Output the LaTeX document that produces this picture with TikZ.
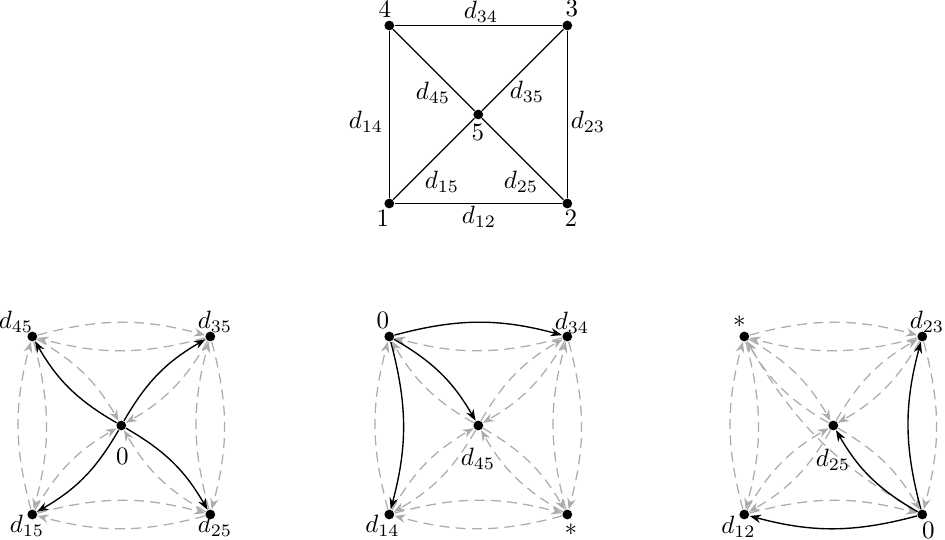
\documentclass[tikz,border=0pt]{standalone}
\usetikzlibrary{arrows.meta}
\begin{document}
\begin{tikzpicture}[x=0.01404cm,y=-0.01404cm,
  dot/.style={circle,fill=black,inner sep=0pt,minimum size=3.9pt},
  lbl/.style={inner sep=0pt},
  plain/.style={line width=0.5pt},
  blackarc/.style={line width=0.55pt,-{Stealth[length=4.6pt,width=3.3pt]},bend left=15},
  grayarc/.style={line width=0.5pt,gray!65,-{Stealth[length=4.4pt,width=3.4pt]},bend left=15,dash pattern=on 4pt off 2.5pt}]
\useasboundingbox (0,0) rectangle (945,540);

% ---------- top graph ----------
\node[dot] (t4) at (389.3,25.5) {};
\node[dot] (t3) at (567.3,25.5) {};
\node[dot] (t1) at (389.3,203.5) {};
\node[dot] (t2) at (567.3,203.5) {};
\node[dot] (t5) at (478.3,114.5) {};
\draw[plain] (t4) -- (t3) -- (t2) -- (t1) -- (t4);
\draw[plain] (t4) -- (t5) -- (t2);
\draw[plain] (t3) -- (t5) -- (t1);
\node[lbl] (lt4) at (385,9) {$4$};
\node[lbl] (lt3) at (572,8.5) {$3$};
\node[lbl] (lt1) at (383,218.5) {$1$};
\node[lbl] (lt2) at (571,218.5) {$2$};
\node[lbl] (lt5) at (478,132) {$5$};
\node[lbl] (l34) at (481,12) {$d_{34}$};
\node[lbl] (l45) at (433,93) {$d_{45}$};
\node[lbl] (l35) at (527,92) {$d_{35}$};
\node[lbl] (l14) at (366,122) {$d_{14}$};
\node[lbl] (l23) at (588,122) {$d_{23}$};
\node[lbl] (l15) at (442,182) {$d_{15}$};
\node[lbl] (l25) at (521,182) {$d_{25}$};
\node[lbl] (l12) at (479,217) {$d_{12}$};

% ---------- bottom left ----------
\node[dot] (a45) at (32.3,336.5) {};
\node[dot] (a35) at (210.3,336.5) {};
\node[dot] (a15) at (32.3,514.5) {};
\node[dot] (a25) at (210.3,514.5) {};
\node[dot] (a0) at (121.3,425.5) {};
\foreach \u/\v in {a45/a35,a35/a45,a35/a25,a25/a35,a25/a15,a15/a25,a15/a45,a45/a15,
                   a45/a0,a35/a0,a15/a0,a25/a0}
  \draw[grayarc] (\u) to (\v);
\foreach \v in {a45,a35,a15,a25}
  \draw[blackarc] (a0) to (\v);
\node[lbl] (la45) at (16,322) {$d_{45}$};
\node[lbl] (la35) at (215,322) {$d_{35}$};
\node[lbl] (la15) at (27,526) {$d_{15}$};
\node[lbl] (la25) at (215,526) {$d_{25}$};
\node[lbl] (la0) at (122.5,456) {$0$};

% ---------- bottom middle ----------
\node[dot] (b0) at (389.3,336.5) {};
\node[dot] (b34) at (567.3,336.5) {};
\node[dot] (b14) at (389.3,514.5) {};
\node[dot] (bs) at (567.3,514.5) {};
\node[dot] (b45) at (478.3,425.5) {};
\foreach \u/\v in {b34/b0,b34/bs,bs/b34,bs/b14,b14/bs,b14/b0,
                   b45/b0,b34/b45,b45/b34,bs/b45,b45/bs,b14/b45,b45/b14}
  \draw[grayarc] (\u) to (\v);
\foreach \v in {b34,b45,b14}
  \draw[blackarc] (b0) to (\v);
\node[lbl] (lb0) at (383,320) {$0$};
\node[lbl] (lb34) at (572,323) {$d_{34}$};
\node[lbl] (lb45) at (478,459) {$d_{45}$};
\node[lbl] (lb14) at (382.5,526) {$d_{14}$};
\node[lbl] (lbs) at (571,530) {$*$};

% ---------- bottom right ----------
\node[dot] (cs) at (744.3,336.5) {};
\node[dot] (c23) at (922.3,336.5) {};
\node[dot] (c12) at (744.3,514.5) {};
\node[dot] (c0) at (922.3,514.5) {};
\node[dot] (c25) at (833.3,425.5) {};
\foreach \u/\v in {cs/c23,c23/cs,c23/c0,c0/cs,c12/c0,cs/c12,c12/cs,
                   cs/c25,c25/cs,c23/c25,c25/c23,c12/c25,c25/c12,c25/c0}
  \draw[grayarc] (\u) to (\v);
\foreach \v in {c23,c12,c25}
  \draw[blackarc] (c0) to (\v);
\node[lbl] (lcs) at (739.5,321.5) {$*$};
\node[lbl] (lc23) at (927,322) {$d_{23}$};
\node[lbl] (lc25) at (833,460) {$d_{25}$};
\node[lbl] (lc12) at (738.5,527) {$d_{12}$};
\node[lbl] (lc0) at (928.5,530) {$0$};
\end{tikzpicture}
\end{document}
